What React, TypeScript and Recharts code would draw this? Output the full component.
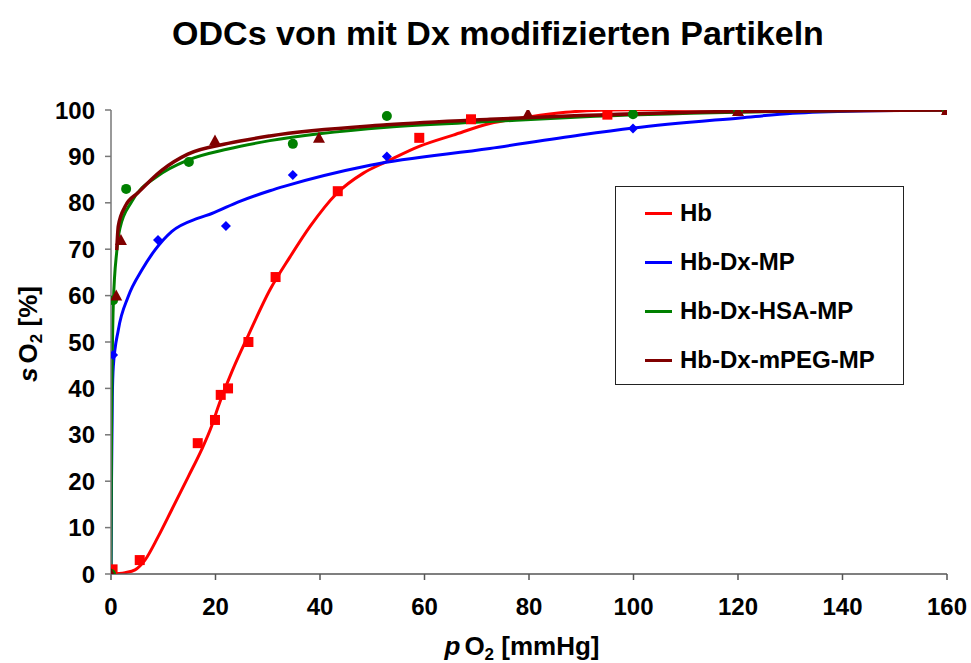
import { ComposedChart, Line, Scatter, XAxis, YAxis } from "recharts";

const FONT = '"Liberation Sans", Arial, sans-serif';

const xTicks = [0, 20, 40, 60, 80, 100, 120, 140, 160];
const yTicks = [0, 10, 20, 30, 40, 50, 60, 70, 80, 90, 100];

// measured points
const hbPoints = [
  { x: 0.3, y: 1 }, { x: 5.5, y: 3 }, { x: 16.6, y: 28.2 }, { x: 19.9, y: 33.2 },
  { x: 21, y: 38.6 }, { x: 22.4, y: 40 }, { x: 26.3, y: 50 }, { x: 31.5, y: 64 },
  { x: 43.4, y: 82.5 }, { x: 59, y: 94 }, { x: 68.9, y: 98 }, { x: 95, y: 99 },
  { x: 160, y: 100 },
];
const dxPoints = [
  { x: 0.4, y: 47.2 }, { x: 9, y: 72 }, { x: 22, y: 75 }, { x: 34.8, y: 86 },
  { x: 52.8, y: 90 }, { x: 99.9, y: 96 }, { x: 160, y: 100 },
];
const hsaPoints = [
  { x: 0, y: 0 }, { x: 0.4, y: 59 }, { x: 2.9, y: 83 }, { x: 14.9, y: 88.8 },
  { x: 34.8, y: 92.7 }, { x: 52.8, y: 98.7 }, { x: 99.9, y: 99.1 }, { x: 120, y: 100 },
  { x: 160, y: 100 },
];
const pegPoints = [
  { x: 0, y: 0 }, { x: 1, y: 60 }, { x: 1.9, y: 72 }, { x: 19.9, y: 93.4 },
  { x: 39.8, y: 94 }, { x: 79.8, y: 99.2 }, { x: 120, y: 99.8 }, { x: 160, y: 100 },
];

// fitted curves
const hbCurve = [
  { x: 0, y: 0 }, { x: 2.7, y: 0.3 }, { x: 4.6, y: 0.9 }, { x: 6.5, y: 3 },
  { x: 9, y: 8 }, { x: 11.6, y: 13.8 }, { x: 14.8, y: 21 }, { x: 17.3, y: 26.7 },
  { x: 19.3, y: 32 }, { x: 20.5, y: 36 }, { x: 23.1, y: 43.5 }, { x: 26.3, y: 51.5 },
  { x: 30.4, y: 61.2 }, { x: 34.3, y: 68.4 }, { x: 38.1, y: 74.9 }, { x: 43.2, y: 82 },
  { x: 48.3, y: 86.4 }, { x: 52.8, y: 88.9 }, { x: 59.1, y: 92.2 }, { x: 65.5, y: 94.6 },
  { x: 72.5, y: 97.1 }, { x: 80, y: 98.5 }, { x: 87, y: 99.5 }, { x: 95, y: 100 },
  { x: 120, y: 100.2 }, { x: 160, y: 100 },
];
const dxCurve = [
  { x: 0, y: 0 }, { x: 0.1, y: 20 }, { x: 0.25, y: 38 }, { x: 0.44, y: 44.7 },
  { x: 1.4, y: 52.6 }, { x: 3.3, y: 59.8 }, { x: 5.9, y: 65.5 }, { x: 8.4, y: 69.8 },
  { x: 11.6, y: 73.8 }, { x: 16.7, y: 76.7 }, { x: 19.3, y: 77.7 }, { x: 24.4, y: 80.2 },
  { x: 30.4, y: 82.6 }, { x: 33.3, y: 83.6 }, { x: 49.6, y: 88.1 }, { x: 72.5, y: 91.7 },
  { x: 89.8, y: 94.6 }, { x: 100, y: 96.1 }, { x: 120.4, y: 98.3 }, { x: 130.5, y: 99.3 },
  { x: 143, y: 99.8 }, { x: 160, y: 100 },
];
const hsaCurve = [
  { x: 0, y: 0 }, { x: 0.1, y: 30 }, { x: 0.45, y: 58.4 }, { x: 1.1, y: 69.5 },
  { x: 1.7, y: 74.5 }, { x: 4, y: 80.3 }, { x: 9, y: 85.8 }, { x: 14.7, y: 89.2 },
  { x: 22.4, y: 91.6 }, { x: 30.4, y: 93.4 }, { x: 52.8, y: 96.3 }, { x: 72.5, y: 97.5 },
  { x: 89.8, y: 98.5 }, { x: 120, y: 99.5 }, { x: 160, y: 100 },
];
const pegCurve = [
  { x: 1.1, y: 69.8 }, { x: 1.4, y: 75 }, { x: 2.7, y: 79.2 }, { x: 5.2, y: 82.2 },
  { x: 9.7, y: 87 }, { x: 14.7, y: 90.5 }, { x: 22.4, y: 92.8 }, { x: 30.4, y: 94.4 },
  { x: 52.8, y: 96.8 }, { x: 72.5, y: 98 }, { x: 89.8, y: 98.8 }, { x: 120, y: 99.7 },
  { x: 160, y: 100 },
];

const legendItems = [
  { name: "Hb", color: "#ff0000" },
  { name: "Hb-Dx-MP", color: "#0000ff" },
  { name: "Hb-Dx-HSA-MP", color: "#008000" },
  { name: "Hb-Dx-mPEG-MP", color: "#800000" },
];

const Square = (p: any) => <rect x={p.cx - 5} y={p.cy - 5} width={10} height={10} fill="#ff0000" />;
const Diamond = (p: any) => (
  <polygon points={`${p.cx},${p.cy - 5} ${p.cx + 5},${p.cy} ${p.cx},${p.cy + 5} ${p.cx - 5},${p.cy}`} fill="#0000ff" />
);
const Dot = (p: any) => <circle cx={p.cx} cy={p.cy} r={5} fill="#008000" />;
const Tri = (p: any) => (
  <polygon points={`${p.cx},${p.cy - 6} ${p.cx + 6},${p.cy + 5} ${p.cx - 6},${p.cy + 5}`} fill="#800000" />
);

function LegendBox() {
  return (
    <div
      style={{
        position: "absolute",
        left: 615,
        top: 186,
        width: 289,
        height: 199,
        border: "1px solid #222",
        background: "#fff",
        fontFamily: FONT,
        fontWeight: "bold",
        fontSize: 24,
        boxSizing: "border-box",
      }}
    >
      {legendItems.map((it, i) => (
        <div
          key={it.name}
          style={{ position: "absolute", left: 29, top: 26 + i * 49 - 14, height: 28, display: "flex", alignItems: "center" }}
        >
          <span style={{ display: "inline-block", width: 27, height: 3, background: it.color, marginRight: 8 }} />
          <span>{it.name}</span>
        </div>
      ))}
    </div>
  );
}

const tickStyle = { fill: "#000", fontSize: 24, fontWeight: "bold", fontFamily: FONT };

export default function App() {
  return (
    <div style={{ position: "absolute", left: 0, top: 0, width: 971, height: 663, background: "#fff" }}>
      <ComposedChart width={971} height={663} margin={{ top: 110, right: 24, left: 0, bottom: 0 }}>
        <XAxis
          type="number"
          dataKey="x"
          domain={[0, 160]}
          ticks={xTicks}
          interval={0}
          height={89}
          allowDataOverflow
          tick={tickStyle}
          tickSize={6}
          tickMargin={18}
          stroke="#555"
          strokeWidth={1.5}
        />
        <YAxis
          type="number"
          dataKey="y"
          domain={[0, 100]}
          ticks={yTicks}
          interval={0}
          width={111}
          allowDataOverflow
          tick={tickStyle}
          tickSize={6}
          tickMargin={10}
          stroke="#777"
          strokeWidth={1.5}
        />
        <Line data={hbCurve} dataKey="y" type="monotone" stroke="#ff0000" strokeWidth={3} dot={false} isAnimationActive={false} />
        <Line data={dxCurve} dataKey="y" type="monotone" stroke="#0000ff" strokeWidth={3} dot={false} isAnimationActive={false} />
        <Line data={hsaCurve} dataKey="y" type="monotone" stroke="#008000" strokeWidth={3} dot={false} isAnimationActive={false} />
        <Line data={pegCurve} dataKey="y" type="monotone" stroke="#800000" strokeWidth={3.5} dot={false} isAnimationActive={false} />
        <Scatter data={hbPoints} dataKey="y" shape={Square} isAnimationActive={false} />
        <Scatter data={dxPoints} dataKey="y" shape={Diamond} isAnimationActive={false} />
        <Scatter data={hsaPoints} dataKey="y" shape={Dot} isAnimationActive={false} />
        <Scatter data={pegPoints} dataKey="y" shape={Tri} isAnimationActive={false} />
      </ComposedChart>
      <LegendBox />
      <svg
        width={971}
        height={663}
        style={{ position: "absolute", left: 0, top: 0, pointerEvents: "none" }}
        fontFamily={FONT}
        fontWeight="bold"
      >
        <text x={498} y={45} textAnchor="middle" fontSize={34}>
          ODCs von mit Dx modifizierten Partikeln
        </text>
        <text x={522} y={655} textAnchor="middle" fontSize={26}>
          <tspan fontStyle="italic">p</tspan>
          <tspan dx={4}>O</tspan>
          <tspan fontSize={17} dy={5}>2</tspan>
          <tspan dy={-5}> [mmHg]</tspan>
        </text>
        <text transform="translate(37,334) rotate(-90)" textAnchor="middle" fontSize={26}>
          <tspan fontStyle="italic">s</tspan>
          <tspan dx={4}>O</tspan>
          <tspan fontSize={17} dy={5}>2</tspan>
          <tspan dy={-5}> [%]</tspan>
        </text>
      </svg>
    </div>
  );
}
